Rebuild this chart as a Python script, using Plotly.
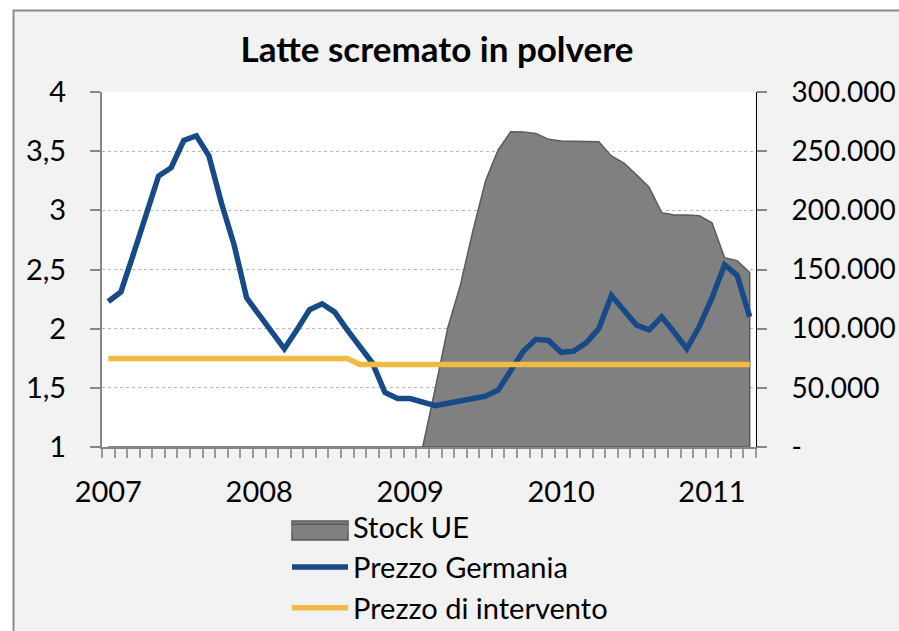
import plotly.graph_objects as go

# ---------------- data ----------------
months = list(range(52))  # Jan 2007 .. Apr 2011 (monthly)
year_ticks = [0, 12, 24, 36, 48]
year_labels = ["2007", "2008", "2009", "2010", "2011"]

prezzo_germania = [2.23, 2.31, 2.63, 2.96, 3.29, 3.36, 3.59, 3.63, 3.46, 3.06,
                   2.71, 2.26, 2.11, 1.97, 1.83, 1.99, 2.16, 2.21, 2.14, 1.99,
                   1.85, 1.71, 1.46, 1.41, 1.41, 1.38, 1.35, 1.37, 1.39, 1.41,
                   1.43, 1.48, 1.64, 1.81, 1.91, 1.90, 1.80, 1.81, 1.88, 2.00,
                   2.28, 2.16, 2.03, 1.99, 2.10, 1.97, 1.83, 2.02, 2.26, 2.54,
                   2.45, 2.10]

prezzo_intervento = [1.747] * 20 + [1.698] * 32

stock_ue = [0] * 26 + [49600, 101000, 137000, 183000, 225000, 251000, 266500,
                       266300, 265000, 260000, 258500, 258500, 258500, 258000,
                       246000, 240000, 230000, 219500, 198000, 196000, 196000,
                       195500, 189500, 160000, 157500, 147500]

left_vals = [1, 1.5, 2, 2.5, 3, 3.5, 4]
left_labels = ["1", "1,5", "2", "2,5", "3", "3,5", "4"]
right_vals = [0, 50000, 100000, 150000, 200000, 250000, 300000]
right_labels = ["-", "50.000", "100.000", "150.000", "200.000", "250.000", "300.000"]

# ---------------- layout geometry ----------------
W, H = 899, 631
L, R, T, B = 102, 143, 92, 184
PW, PH = W - L - R, H - T - B


def px2x(px):
    return (px - L) / PW


def py2y(py):
    return (H - B - py) / PH


FONT = "Lato, 'Open Sans', sans-serif"
GRAY = "#868686"
AREA_FILL = "#808080"
AREA_LINE = "#5a5a5a"

fig = go.Figure()

# area (closed polygon so the right edge gets its outline too)
fig.add_trace(go.Scatter(
    x=months + [months[-1], months[0]],
    y=stock_ue + [0, 0],
    name="Stock UE",
    fill="toself",
    fillcolor=AREA_FILL,
    line=dict(color=AREA_LINE, width=1.5),
    mode="lines",
    yaxis="y",
))

fig.add_trace(go.Scatter(
    x=months, y=prezzo_germania, name="Prezzo Germania",
    mode="lines", line=dict(color="#174A87", width=5.5),
    yaxis="y2",
))
fig.add_trace(go.Scatter(
    x=months, y=prezzo_intervento, name="Prezzo di intervento",
    mode="lines", line=dict(color="#F0BB45", width=5.5),
    yaxis="y2",
))

shapes = [
    # white strips outside the chart frame (top & left)
    dict(type="rect", xref="paper", yref="paper", x0=px2x(-5), x1=px2x(13),
         y0=py2y(H + 5), y1=py2y(-5), fillcolor="white", line=dict(width=0), layer="below"),
    dict(type="rect", xref="paper", yref="paper", x0=px2x(-5), x1=px2x(W + 5),
         y0=py2y(10), y1=py2y(-5), fillcolor="white", line=dict(width=0), layer="below"),
    dict(type="line", xref="paper", yref="paper", x0=px2x(13.5), x1=px2x(13.5),
         y0=py2y(10), y1=py2y(H + 5), line=dict(color="#8a8a8a", width=2)),
    dict(type="line", xref="paper", yref="paper", x0=px2x(13), x1=px2x(W + 5),
         y0=py2y(10.5), y1=py2y(10.5), line=dict(color="#8a8a8a", width=2)),
    # taller swatch behind the legend's area symbol (as in the original legend)
    dict(type="rect", xref="paper", yref="paper", x0=px2x(292), x1=px2x(348),
         y0=py2y(540), y1=py2y(521), fillcolor=AREA_FILL,
         line=dict(color=AREA_LINE, width=1.5), layer="above"),
]

fig.update_layout(
    width=W, height=H,
    margin=dict(l=L, r=R, t=T, b=B, pad=0, autoexpand=False),
    paper_bgcolor="#F2F2F2",
    plot_bgcolor="white",
    font=dict(family=FONT, size=29, color="black"),
    title=dict(text="<b>Latte scremato in polvere</b>", x=px2x(437), xref="paper",
               xanchor="center", y=1 - 50 / H, yref="container", yanchor="middle",
               font=dict(family=FONT, size=35, color="black")),
    showlegend=True,
    legend=dict(x=px2x(287), y=py2y(501), xref="paper", yref="paper",
                xanchor="left", yanchor="top", bgcolor="rgba(0,0,0,0)",
                font=dict(family=FONT, size=29), itemwidth=56,
                tracegroupgap=0, traceorder="normal"),
    xaxis=dict(
        range=[-0.5, 51.5], tickmode="array", tickvals=year_ticks, ticktext=year_labels,
        ticks="", showgrid=False, zeroline=False, showline=True, linecolor=GRAY,
        linewidth=2, ticklabelstandoff=18,
        minor=dict(tick0=-0.5, dtick=1, ticks="outside", ticklen=9, tickwidth=1.5,
                   tickcolor="#9a9a9a", showgrid=False),
        fixedrange=True,
    ),
    yaxis=dict(
        side="right", range=[0, 300000], tickmode="array", tickvals=right_vals,
        ticktext=right_labels, ticks="outside", ticklen=10, tickwidth=1.5,
        tickcolor=GRAY, showline=True, linecolor="black", linewidth=1,
        showgrid=True, gridcolor="#b8b8b8", griddash="dot", gridwidth=1,
        zeroline=False, ticklabelstandoff=19, tickfont=dict(size=28),
    ),
    yaxis2=dict(
        overlaying="y", side="left", range=[1, 4], tickmode="array",
        tickvals=left_vals, ticktext=left_labels, ticks="outside", ticklen=10,
        tickwidth=2, tickcolor=GRAY, showline=True, linecolor=GRAY, linewidth=2,
        showgrid=False, zeroline=False, ticklabelstandoff=18,
    ),
    shapes=shapes,
)

fig.write_html("out.html", config={"displayModeBar": False},
               post_script="document.body.style.margin='0';")
